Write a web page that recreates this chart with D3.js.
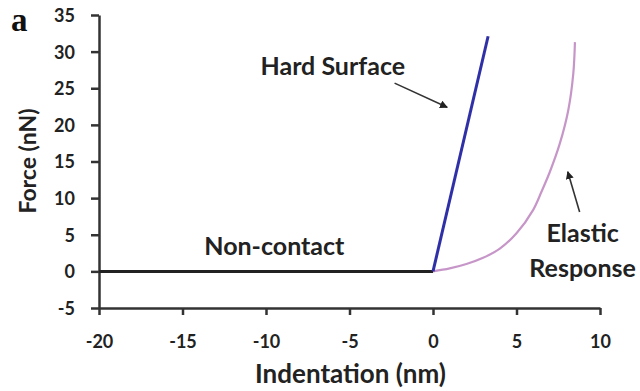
<!DOCTYPE html>
<html>
<head>
<meta charset="utf-8">
<script src="https://cdn.jsdelivr.net/npm/d3@7"></script>
<style>
  body { margin: 0; background: #fff; }
</style>
</head>
<body>
<svg id="chart" width="640" height="391"></svg>
<script>
// tick values
const xTicks = [-20, -15, -10, -5, 0, 5, 10]
const yTicks = [-5, 0, 5, 10, 15, 20, 25, 30, 35]

// series
const nonContactX = [-20, 0]
const nonContactY = [0, 0]
const hardX = [0, 3.3]
const hardY = [0, 32.1]
const elasticX = [0, 1, 2, 3, 4, 5, 6, 6.5, 7, 7.6, 8.1, 8.4, 8.5]
const elasticY = [0, 0.4, 1.0, 1.85, 3.1, 5.2, 8.4, 10.9, 13.6, 17.5, 22.0, 27.0, 31.3]

// annotations (data coords)
const labels = [
  { text: "Hard Surface", x: -6.0, y: 26.8, size: 25 },
  { text: "Non-contact", x: -9.5, y: 2.25, size: 25 },
  { text: "Elastic", x: 8.96, y: 4.0, size: 25 },
  { text: "Response", x: 8.96, y: -0.75, size: 25 }
]
const arrows = [
  { x1: -2.3, y1: 25.7, x2: 0.85, y2: 22.4 },
  { x1: 8.78, y1: 8.1, x2: 8.07, y2: 13.6 }
]

const font = "Lato, 'Open Sans', sans-serif"

const svg = d3.select("#chart")
const margin = { top: 15, right: 40, bottom: 83, left: 99 }
const width = +svg.attr("width") - margin.left - margin.right
const height = +svg.attr("height") - margin.top - margin.bottom

const g = svg.append("g").attr("transform", "translate(" + margin.left + "," + margin.top + ")")

const x = d3.scaleLinear().domain([-20, 10]).range([0, width])
const y = d3.scaleLinear().domain([-5, 35]).range([height, 0])

// axes
const xAxis = g.append("g")
  .attr("transform", "translate(0," + height + ")")
  .call(d3.axisBottom(x).tickValues(xTicks).tickFormat(d => String(d))
    .tickSize(7).tickSizeOuter(0).tickPadding(20))
const yAxis = g.append("g")
  .call(d3.axisLeft(y).tickValues(yTicks).tickFormat(d => String(d))
    .tickSize(8).tickSizeOuter(0).tickPadding(16))

;[xAxis, yAxis].forEach(a => {
  a.select(".domain").attr("stroke", "#333").attr("stroke-width", 2.5)
  a.selectAll(".tick line").attr("stroke", "#333").attr("stroke-width", 2.5)
  a.selectAll(".tick text")
    .style("font-family", font).style("font-weight", 700)
    .style("font-size", "18px").style("fill", "#222")
})
yAxis.selectAll(".tick text").attr("dy", "0.36em")

g.append("text")
  .attr("x", width / 2 + 1)
  .attr("y", height + 75)
  .attr("text-anchor", "middle")
  .style("font-family", font).style("font-weight", 700).style("font-size", "26px")
  .style("fill", "#222")
  .text("Indentation (nm)")

g.append("text")
  .attr("transform", "rotate(-90)")
  .attr("x", -(161 - margin.top))
  .attr("y", -63)
  .attr("text-anchor", "middle")
  .style("font-family", font).style("font-weight", 700).style("font-size", "23px")
  .style("fill", "#222")
  .text("Force (nN)")

svg.append("text")
  .attr("x", 11)
  .attr("y", 31)
  .style("font-family", "'Liberation Serif', serif")
  .style("font-weight", 700)
  .style("font-size", "33px")
  .style("fill", "#111")
  .text("a")

// lines
const line = d3.line().x(d => x(d[0])).y(d => y(d[1]))

g.append("path")
  .datum(d3.zip(nonContactX, nonContactY))
  .attr("fill", "none").attr("stroke", "#222").attr("stroke-width", 3)
  .attr("d", line)

g.append("path")
  .datum(d3.zip(elasticX, elasticY))
  .attr("fill", "none").attr("stroke", "#c796c9").attr("stroke-width", 2.2)
  .attr("d", d3.line().x(d => x(d[0])).y(d => y(d[1])).curve(d3.curveCatmullRom.alpha(0.5)))

g.append("path")
  .datum(d3.zip(hardX, hardY))
  .attr("fill", "none").attr("stroke", "#2f2fa8").attr("stroke-width", 3)
  .attr("d", line)

// annotations
svg.append("defs").append("marker")
  .attr("id", "head")
  .attr("viewBox", "0 0 10 10")
  .attr("refX", 9).attr("refY", 5)
  .attr("markerWidth", 5).attr("markerHeight", 5)
  .attr("orient", "auto")
  .append("path").attr("d", "M0,0L10,5L0,10z").attr("fill", "#222")

g.selectAll(".arrow")
  .data(arrows)
  .enter().append("line")
  .attr("class", "arrow")
  .attr("x1", d => x(d.x1)).attr("y1", d => y(d.y1))
  .attr("x2", d => x(d.x2)).attr("y2", d => y(d.y2))
  .attr("stroke", "#333").attr("stroke-width", 1.6)
  .attr("marker-end", "url(#head)")

g.selectAll(".label")
  .data(labels)
  .enter().append("text")
  .attr("class", "label")
  .attr("x", d => x(d.x)).attr("y", d => y(d.y))
  .attr("text-anchor", "middle")
  .style("font-family", font).style("font-weight", 700)
  .style("font-size", d => d.size + "px").style("fill", "#222")
  .text(d => d.text)
</script>
</body>
</html>
